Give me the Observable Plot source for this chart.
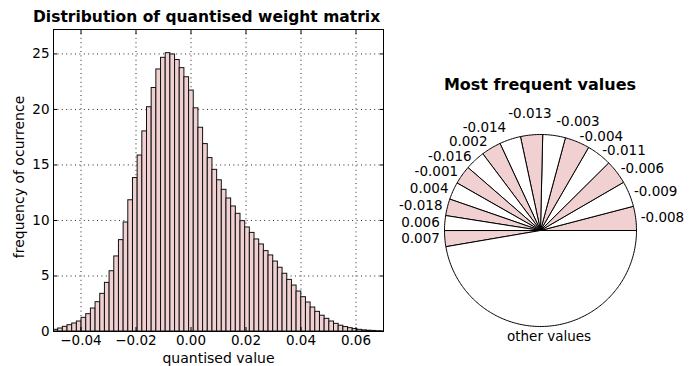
<!DOCTYPE html>
<html><head><meta charset="utf-8">
<script src="https://cdn.jsdelivr.net/npm/d3@7"></script>
<script src="https://cdn.jsdelivr.net/npm/@observablehq/plot@0.6"></script>
<style>
body{margin:0;background:#fff;}
#wrap{position:relative;width:699px;height:366px;font-family:"DejaVu Sans",sans-serif;overflow:hidden;background:#fff}
.title{position:absolute;font-weight:bold;line-height:18px;white-space:nowrap;color:#000}
#t1{left:33px;top:8px;font-size:15.5px}
#t2{left:400px;width:280px;text-align:center;top:76px;font-size:16px}
#hist{position:absolute;left:0;top:0}
#pie{position:absolute;left:400px;top:0}
</style></head><body>
<div id="wrap">
<div class="title" id="t1">Distribution of quantised weight matrix</div>
<div class="title" id="t2">Most frequent values</div>
<div id="hist"></div><div id="pie"></div>
</div>
<script>
// histogram data
const binStart = -0.05;
const binWidth = 0.0017;
const counts = [0.15,0.27,0.42,0.57,0.72,0.90,1.23,1.56,2.07,2.64,
  3.39,4.38,5.43,6.76,8.23,9.82,11.82,13.82,15.85,18.02,
  20.2,21.93,23.6,24.65,25.07,24.95,24.45,23.72,22.9,21.7,
  20.1,18.35,16.88,15.62,14.56,13.62,12.76,11.98,11.26,10.6,
  9.94,9.37,8.88,8.29,7.84,7.24,6.85,6.3,5.74,5.2,
  4.65,4.14,3.6,3.09,2.61,2.16,1.77,1.42,1.14,0.9,
  0.69,0.52,0.4,0.3,0.22,0.15,0.1,0.07,0.05,0.03,0.02];
const xTicks = [-0.04,-0.02,0,0.02,0.04,0.06];
const yTicks = [0,5,10,15,20,25];

// pie data
const pieLabels = ["-0.008","-0.009","-0.006","-0.011","-0.004","-0.003","-0.013","-0.014","0.002","-0.016","-0.001","0.004","-0.018","0.006","0.007","other values"];
const pieShares = [4.06,4.31,4.06,4.22,4.17,3.81,3.72,3.58,3.33,3.36,3.14,2.94,2.81,2.50,2.69,47.30];

const PINK = "#f0d0d0";
const baseStyle = {fontFamily:"DejaVu Sans", fontSize:"13.5px", background:"transparent", overflow:"visible", color:"black"};

const bars = counts.map((c,i)=>({x1: binStart+i*binWidth, x2: binStart+(i+1)*binWidth, y: c}));
const gridStyle = {stroke:"black", strokeOpacity:0.85, strokeDasharray:"1,3.4", strokeWidth:1};

const hist = Plot.plot({
  width: 400, height: 366, marginLeft: 53, marginRight: 17, marginTop: 29, marginBottom: 35,
  x: {domain: [-0.05, 0.07]},
  y: {domain: [0, 27.2]},
  style: baseStyle,
  marks: [
    Plot.gridX({ticks: xTicks, ...gridStyle}),
    Plot.gridY({ticks: yTicks, ...gridStyle}),
    Plot.rect(bars, {x1:"x1", x2:"x2", y1:0, y2:"y", fill:PINK, stroke:"#111", strokeWidth:1, clip:true}),
    Plot.frame({stroke:"black", strokeWidth:1}),
    Plot.axisX({ticks:xTicks, tickFormat:d3.format(".2f"), tickSize:-4, tickPadding:8, label:null}),
    Plot.axisX({anchor:"top", ticks:xTicks, tickFormat:()=>"", tickSize:-4, label:null}),
    Plot.axisY({ticks:yTicks, tickFormat:d=>String(d), tickSize:-4, tickPadding:8, label:null}),
    Plot.axisY({anchor:"right", ticks:yTicks, tickFormat:()=>"", tickSize:-4, label:null}),
    Plot.text(["quantised value"], {text:d=>d, frameAnchor:"bottom", lineAnchor:"middle", textAnchor:"middle", dy:27, fontSize:14}),
    Plot.text(["frequency of ocurrence"], {text:d=>d, frameAnchor:"left", lineAnchor:"middle", textAnchor:"middle", rotate:-90, dx:-34, dy:-3.5, fontSize:14})
  ]
});
document.getElementById("hist").appendChild(hist);

// pie geometry
const R = 96;
const total = d3.sum(pieShares);
const cum = [0, ...d3.cumsum(pieShares)];
const slices = pieLabels.map((label,i)=>({label, id:i,
  a0: 2*Math.PI*cum[i]/total, a1: 2*Math.PI*cum[i+1]/total,
  color: i%2===0 ? PINK : "white"}));
const poly = [];
for (const s of slices) {
  const n = Math.max(2, Math.ceil((s.a1-s.a0)/(Math.PI/180)));
  poly.push({id:s.id, color:s.color, x:0, y:0});
  for (let k=0;k<=n;k++){ const a = s.a0+(s.a1-s.a0)*k/n; poly.push({id:s.id, color:s.color, x:R*Math.cos(a), y:R*Math.sin(a)}); }
  poly.push({id:s.id, color:s.color, x:0, y:0});
}
// label placement: radial, pushed outward when a label collides with one already placed
const charW = 7.4, lineH = 14, labelR = 101, padX = 4;
const labelInfo = slices.map(s => {
  const a = (s.a0+s.a1)/2, c = Math.cos(a), sn = Math.sin(a);
  const textAnchor = c > 0.1 ? "start" : c < -0.1 ? "end" : "middle";
  const lineAnchor = textAnchor === "middle" ? (sn > 0 ? "bottom" : "top") : "middle";
  return {label:s.label, a, c, sn, textAnchor, lineAnchor, w:s.label.length*charW};
});
const order = d3.range(labelInfo.length).sort((i,j) =>
  Math.abs(labelInfo[i].sn) - Math.abs(labelInfo[j].sn));
const placed = [];
const labels = new Array(labelInfo.length);
for (const i of order) {
  const L = labelInfo[i];
  let r = labelR, box;
  for (let it=0; it<40; it++) {
    const x = r*L.c, y = r*L.sn;
    const x0 = L.textAnchor==="start" ? x : L.textAnchor==="end" ? x-L.w : x-L.w/2;
    const y0 = L.lineAnchor==="bottom" ? y : L.lineAnchor==="top" ? y-lineH : y-lineH/2;
    box = {x0, x1:x0+L.w, y0, y1:y0+lineH};
    if (!placed.some(b => box.x0 < b.x1+padX && box.x1 > b.x0-padX && box.y0 < b.y1 && box.y1 > b.y0)) break;
    r += 1;
  }
  placed.push(box);
  labels[i] = {label:L.label, x:r*L.c, y:r*L.sn, textAnchor:L.textAnchor, lineAnchor:L.lineAnchor};
}
const groups = d3.groups(labels, d => d.textAnchor+"|"+d.lineAnchor);
const textMarks = groups.map(([key, arr]) => {
  const [ta, la] = key.split("|");
  return Plot.text(arr, {x:"x", y:"y", text:"label", textAnchor:ta, lineAnchor:la, fontSize:13.5, fill:"black"});
});

const pie = Plot.plot({
  width: 299, height: 366, margin: 0,
  x: {domain: [-140, 159], axis: null},
  y: {domain: [-136, 230], axis: null},
  color: {type: "identity"},
  style: baseStyle,
  marks: [
    Plot.line(poly, {x:"x", y:"y", z:"id", fill:"color", stroke:"black", strokeWidth:1, strokeLinejoin:"miter"}),
    ...textMarks
  ]
});
document.getElementById("pie").appendChild(pie);
</script>
</body></html>
